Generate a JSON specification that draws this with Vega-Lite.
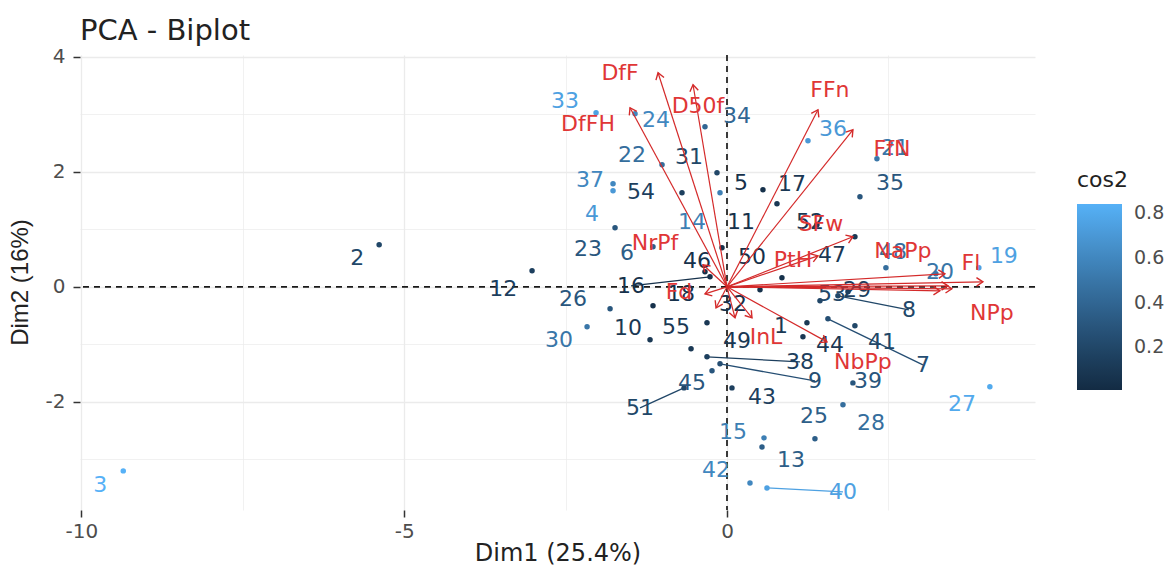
{
  "$schema": "https://vega.github.io/schema/vega-lite/v6.json",
  "width": 955,
  "height": 455,
  "autosize": {"type": "none"},
  "padding": {"left": 80, "top": 55, "right": 141, "bottom": 59},
  "background": "white",
  "title": {"text": "PCA - Biplot", "anchor": "start", "frame": "group", "fontSize": 29, "font": "DejaVu Sans", "fontWeight": "normal", "color": "#222222", "offset": 1},
  "config": {
    "view": {"stroke": null},
    "font": "DejaVu Sans",
    "axis": {"domain": false, "gridColor": "#EBEBEB", "tickColor": "#333333", "tickWidth": 1.5, "tickSize": 7, "labelColor": "#4D4D4D", "labelFontSize": 20, "labelFont": "DejaVu Sans", "titleFontWeight": "normal", "titleColor": "#222222"}
  },
  "datasets": {
    "ind": [
      {"id": "1", "x": 1.238, "y": -0.626, "lx": 0.836, "ly": -0.678, "cos2": 0.1},
      {"id": "2", "x": -5.387, "y": 0.73, "lx": -5.728, "ly": 0.504, "cos2": 0.2},
      {"id": "3", "x": -9.35, "y": -3.2, "lx": -9.706, "ly": -3.443, "cos2": 0.84},
      {"id": "4", "x": -1.765, "y": 1.67, "lx": -2.09, "ly": 1.27, "cos2": 0.7},
      {"id": "5", "x": 0.557, "y": 1.687, "lx": 0.217, "ly": 1.809, "cos2": 0.05},
      {"id": "6", "x": -1.146, "y": 0.696, "lx": -1.548, "ly": 0.591, "cos2": 0.35},
      {"id": "7", "x": 1.563, "y": -0.557, "lx": 3.034, "ly": -1.357, "cos2": 0.25},
      {"id": "8", "x": 1.718, "y": -0.157, "lx": 2.817, "ly": -0.4, "cos2": 0.2},
      {"id": "9", "x": -0.108, "y": -1.339, "lx": 1.362, "ly": -1.635, "cos2": 0.25},
      {"id": "10", "x": -1.192, "y": -0.922, "lx": -1.533, "ly": -0.713, "cos2": 0.1},
      {"id": "11", "x": -0.077, "y": 0.678, "lx": 0.217, "ly": 1.13, "cos2": 0.05},
      {"id": "12", "x": -3.019, "y": 0.278, "lx": -3.467, "ly": -0.035, "cos2": 0.15},
      {"id": "13", "x": 0.542, "y": -2.783, "lx": 0.991, "ly": -3.009, "cos2": 0.35},
      {"id": "14", "x": -0.108, "y": 1.635, "lx": -0.542, "ly": 1.13, "cos2": 0.55},
      {"id": "15", "x": 0.573, "y": -2.626, "lx": 0.093, "ly": -2.522, "cos2": 0.55},
      {"id": "16", "x": -0.263, "y": 0.174, "lx": -1.486, "ly": 0.017, "cos2": 0.05},
      {"id": "17", "x": 0.774, "y": 1.443, "lx": 1.006, "ly": 1.791, "cos2": 0.1},
      {"id": "18", "x": -1.146, "y": -0.33, "lx": -0.712, "ly": -0.122, "cos2": 0.05},
      {"id": "19", "x": 3.901, "y": 0.33, "lx": 4.288, "ly": 0.539, "cos2": 0.75},
      {"id": "20", "x": 3.235, "y": 0.226, "lx": 3.297, "ly": 0.261, "cos2": 0.5},
      {"id": "21", "x": 2.322, "y": 2.226, "lx": 2.601, "ly": 2.417, "cos2": 0.5},
      {"id": "22", "x": -1.006, "y": 2.122, "lx": -1.471, "ly": 2.296, "cos2": 0.45},
      {"id": "23", "x": -1.734, "y": 1.026, "lx": -2.152, "ly": 0.661, "cos2": 0.3},
      {"id": "24", "x": -1.424, "y": 3.009, "lx": -1.099, "ly": 2.904, "cos2": 0.6},
      {"id": "25", "x": 1.362, "y": -2.643, "lx": 1.347, "ly": -2.243, "cos2": 0.35},
      {"id": "26", "x": -1.811, "y": -0.383, "lx": -2.384, "ly": -0.209, "cos2": 0.3},
      {"id": "27", "x": 4.071, "y": -1.739, "lx": 3.638, "ly": -2.035, "cos2": 0.8},
      {"id": "28", "x": 1.796, "y": -2.052, "lx": 2.229, "ly": -2.365, "cos2": 0.45},
      {"id": "29", "x": 1.873, "y": -0.087, "lx": 2.012, "ly": -0.052, "cos2": 0.15},
      {"id": "30", "x": -2.167, "y": -0.696, "lx": -2.601, "ly": -0.922, "cos2": 0.5},
      {"id": "31", "x": -0.155, "y": 1.983, "lx": -0.588, "ly": 2.261, "cos2": 0.2},
      {"id": "32", "x": 0.511, "y": -0.052, "lx": 0.093, "ly": -0.296, "cos2": 0.05},
      {"id": "33", "x": -2.028, "y": 3.026, "lx": -2.508, "ly": 3.235, "cos2": 0.75},
      {"id": "34", "x": -0.341, "y": 2.783, "lx": 0.155, "ly": 2.974, "cos2": 0.4},
      {"id": "35", "x": 2.059, "y": 1.565, "lx": 2.523, "ly": 1.809, "cos2": 0.3},
      {"id": "36", "x": 1.254, "y": 2.539, "lx": 1.641, "ly": 2.748, "cos2": 0.7},
      {"id": "37", "x": -1.765, "y": 1.791, "lx": -2.121, "ly": 1.861, "cos2": 0.6},
      {"id": "38", "x": -0.31, "y": -1.217, "lx": 1.13, "ly": -1.304, "cos2": 0.15},
      {"id": "39", "x": 1.95, "y": -1.67, "lx": 2.183, "ly": -1.635, "cos2": 0.3},
      {"id": "40", "x": 0.619, "y": -3.496, "lx": 1.796, "ly": -3.565, "cos2": 0.75},
      {"id": "41", "x": 1.981, "y": -0.678, "lx": 2.399, "ly": -0.957, "cos2": 0.2},
      {"id": "42", "x": 0.356, "y": -3.409, "lx": -0.17, "ly": -3.183, "cos2": 0.6},
      {"id": "43", "x": 0.077, "y": -1.757, "lx": 0.542, "ly": -1.913, "cos2": 0.15},
      {"id": "44", "x": 1.176, "y": -0.87, "lx": 1.594, "ly": -1.009, "cos2": 0.1},
      {"id": "45", "x": -0.232, "y": -1.461, "lx": -0.542, "ly": -1.67, "cos2": 0.3},
      {"id": "46", "x": -0.341, "y": 0.261, "lx": -0.464, "ly": 0.452, "cos2": 0.05},
      {"id": "47", "x": 1.981, "y": 0.87, "lx": 1.625, "ly": 0.557, "cos2": 0.1},
      {"id": "48", "x": 2.461, "y": 0.33, "lx": 2.57, "ly": 0.609, "cos2": 0.45},
      {"id": "49", "x": -0.31, "y": -0.626, "lx": 0.155, "ly": -0.939, "cos2": 0.1},
      {"id": "50", "x": 0.851, "y": 0.157, "lx": 0.387, "ly": 0.522, "cos2": 0.05},
      {"id": "51", "x": -0.666, "y": -1.757, "lx": -1.347, "ly": -2.104, "cos2": 0.2},
      {"id": "52", "x": 1.393, "y": 1.078, "lx": 1.285, "ly": 1.13, "cos2": 0.1},
      {"id": "53", "x": 1.44, "y": -0.243, "lx": 1.625, "ly": -0.122, "cos2": 0.2},
      {"id": "54", "x": -0.697, "y": 1.635, "lx": -1.331, "ly": 1.652, "cos2": 0.15},
      {"id": "55", "x": -0.557, "y": -1.078, "lx": -0.789, "ly": -0.696, "cos2": 0.1}
    ],
    "var": [
      {"name": "DfF", "vx": -1.068, "vy": 3.722, "lx": -1.656, "ly": 3.722},
      {"name": "D50f", "vx": -0.526, "vy": 3.513, "lx": -0.449, "ly": 3.148},
      {"name": "DfFH", "vx": -1.502, "vy": 3.113, "lx": -2.152, "ly": 2.835},
      {"name": "FFn", "vx": 1.409, "vy": 3.078, "lx": 1.594, "ly": 3.426},
      {"name": "FfN", "vx": 1.95, "vy": 2.73, "lx": 2.554, "ly": 2.4},
      {"name": "SFw", "vx": 1.95, "vy": 0.87, "lx": 1.455, "ly": 1.1},
      {"name": "PtH", "vx": 1.409, "vy": 0.539, "lx": 1.022, "ly": 0.47},
      {"name": "NaPp", "vx": 3.375, "vy": 0.226, "lx": 2.724, "ly": 0.626},
      {"name": "Fl", "vx": 3.963, "vy": 0.087, "lx": 3.777, "ly": 0.417},
      {"name": "NPp", "vx": 3.483, "vy": -0.035, "lx": 4.102, "ly": -0.452},
      {"name": "", "vx": 3.421, "vy": 0.017, "lx": 3.421, "ly": 0.017},
      {"name": "", "vx": 3.297, "vy": -0.07, "lx": 3.297, "ly": -0.07},
      {"name": "NbPp", "vx": 1.548, "vy": -0.957, "lx": 2.105, "ly": -1.304},
      {"name": "InL", "vx": 0.387, "vy": -0.539, "lx": 0.604, "ly": -0.87},
      {"name": "Fd", "vx": -0.341, "vy": -0.122, "lx": -0.743, "ly": -0.087},
      {"name": "NrPf", "vx": -0.372, "vy": 0.383, "lx": -1.115, "ly": 0.765},
      {"name": "", "vx": -0.17, "vy": -0.365, "lx": -0.17, "ly": -0.365},
      {"name": "", "vx": 0.124, "vy": -0.539, "lx": 0.124, "ly": -0.539}
    ]
  },
  "layer": [
    {
      "data": {"values": [{"v": 0}]},
      "mark": {"type": "rule", "strokeDash": [6, 5], "strokeWidth": 1.7, "color": "#1a1a1a"},
      "encoding": {
        "x": {"field": "v", "type": "quantitative", "title": "Dim1 (25.4%)",
          "scale": {"domain": [-10.02, 4.77], "nice": false, "zero": false},
          "axis": {"values": [-10, -7.5, -5, -2.5, 0, 2.5],
            "labelExpr": "datum.value % 5 == 0 ? '' + datum.value : ''",
            "tickOpacity": {"condition": {"test": "datum.value % 5 == 0", "value": 1}, "value": 0},
            "gridWidth": {"condition": {"test": "datum.value % 5 == 0", "value": 1.3}, "value": 0.7},
            "labelPadding": 4, "titleFontSize": 24, "titleFont": "DejaVu Sans",
            "titleY": 43, "titleBaseline": "middle"}
        }
      }
    },
    {
      "data": {"values": [{"v": 0}]},
      "mark": {"type": "rule", "strokeDash": [6, 5], "strokeWidth": 1.7, "color": "#1a1a1a"},
      "encoding": {
        "y": {"field": "v", "type": "quantitative", "title": "Dim2 (16%)",
          "scale": {"domain": [-3.88, 4.03], "nice": false, "zero": false},
          "axis": {"values": [-3, -2, -1, 0, 1, 2, 3, 4],
            "labelExpr": "datum.value % 2 == 0 ? '' + datum.value : ''",
            "tickOpacity": {"condition": {"test": "datum.value % 2 == 0", "value": 1}, "value": 0},
            "gridWidth": {"condition": {"test": "datum.value % 2 == 0", "value": 1.3}, "value": 0.7},
            "labelPadding": 8, "titleFontSize": 24, "titleFont": "Liberation Sans",
            "titleX": -60, "titleY": 227, "titleAngle": -90, "titleAlign": "center", "titleBaseline": "middle"}
        }
      }
    },
    {
      "data": {"name": "ind"},
      "transform": [{"filter": "sqrt(pow((datum.lx - datum.x) * 64.6, 2) + pow((datum.ly - datum.y) * 57.5, 2)) > 45"}],
      "mark": {"type": "rule", "strokeWidth": 1.3},
      "encoding": {
        "x": {"field": "x", "type": "quantitative", "title": "Dim1 (25.4%)"},
        "y": {"field": "y", "type": "quantitative", "title": "Dim2 (16%)"},
        "x2": {"field": "lx"},
        "y2": {"field": "ly"},
        "stroke": {"field": "cos2", "type": "quantitative",
          "scale": {"domain": [0.0101, 0.8401], "range": ["#132B43", "#56B1F7"], "interpolate": "lab", "clamp": true},
          "legend": null}
      }
    },
    {
      "data": {"name": "ind"},
      "mark": {"type": "point", "filled": true, "size": 30, "opacity": 1},
      "encoding": {
        "x": {"field": "x", "type": "quantitative", "title": "Dim1 (25.4%)"},
        "y": {"field": "y", "type": "quantitative", "title": "Dim2 (16%)"},
        "color": {"field": "cos2", "type": "quantitative", "title": "cos2",
          "scale": {"domain": [0.01, 0.84], "range": ["#132B43", "#56B1F7"], "interpolate": "lab", "clamp": true},
          "legend": {"orient": "none", "legendX": 997, "legendY": 115, "direction": "vertical", "gradientLength": 186, "gradientThickness": 45, "values": [0.2, 0.4, 0.6, 0.8], "format": ".1f", "titleFontSize": 22, "titleFont": "DejaVu Sans", "titleFontWeight": "normal", "titleColor": "#222222", "titlePadding": 12, "labelFontSize": 19, "labelColor": "#4D4D4D", "labelOffset": 12}}
      }
    },
    {
      "data": {"name": "ind"},
      "mark": {"type": "text", "fontSize": 22, "font": "DejaVu Sans", "align": "center", "baseline": "middle"},
      "encoding": {
        "x": {"field": "lx", "type": "quantitative", "title": "Dim1 (25.4%)"},
        "y": {"field": "ly", "type": "quantitative", "title": "Dim2 (16%)"},
        "text": {"field": "id"},
        "color": {"field": "cos2", "type": "quantitative", "title": "cos2",
          "scale": {"domain": [0.01, 0.84], "range": ["#132B43", "#56B1F7"], "interpolate": "lab", "clamp": true},
          "legend": {"orient": "none", "legendX": 997, "legendY": 115, "direction": "vertical", "gradientLength": 186, "gradientThickness": 45, "values": [0.2, 0.4, 0.6, 0.8], "format": ".1f", "titleFontSize": 22, "titleFont": "DejaVu Sans", "titleFontWeight": "normal", "titleColor": "#222222", "titlePadding": 12, "labelFontSize": 19, "labelColor": "#4D4D4D", "labelOffset": 12}}
      }
    },
    {
      "data": {"name": "var"},
      "mark": {"type": "rule", "color": "#D42A2A", "strokeWidth": 1.2},
      "encoding": {
        "x": {"field": "vx", "type": "quantitative", "title": "Dim1 (25.4%)"},
        "y": {"field": "vy", "type": "quantitative", "title": "Dim2 (16%)"},
        "x2": {"datum": 0},
        "y2": {"datum": 0}
      }
    },
    {
      "data": {"name": "var"},
      "transform": [{"calculate": "atan2(datum.vx * 64.57, datum.vy * 57.5) * 180 / PI", "as": "ang"}],
      "mark": {"type": "point", "shape": "M -0.6 0.9 L 0 0 L 0.6 0.9", "filled": false, "stroke": "#D42A2A", "strokeWidth": 1.4, "size": 200, "opacity": 1},
      "encoding": {
        "x": {"field": "vx", "type": "quantitative", "title": "Dim1 (25.4%)"},
        "y": {"field": "vy", "type": "quantitative", "title": "Dim2 (16%)"},
        "angle": {"field": "ang", "type": "quantitative", "scale": null}
      }
    },
    {
      "data": {"name": "var"},
      "mark": {"type": "text", "fontSize": 22, "font": "DejaVu Sans", "align": "center", "baseline": "middle", "color": "#E03636"},
      "encoding": {
        "x": {"field": "lx", "type": "quantitative", "title": "Dim1 (25.4%)"},
        "y": {"field": "ly", "type": "quantitative", "title": "Dim2 (16%)"},
        "text": {"field": "name"}
      }
    }
  ]
}
